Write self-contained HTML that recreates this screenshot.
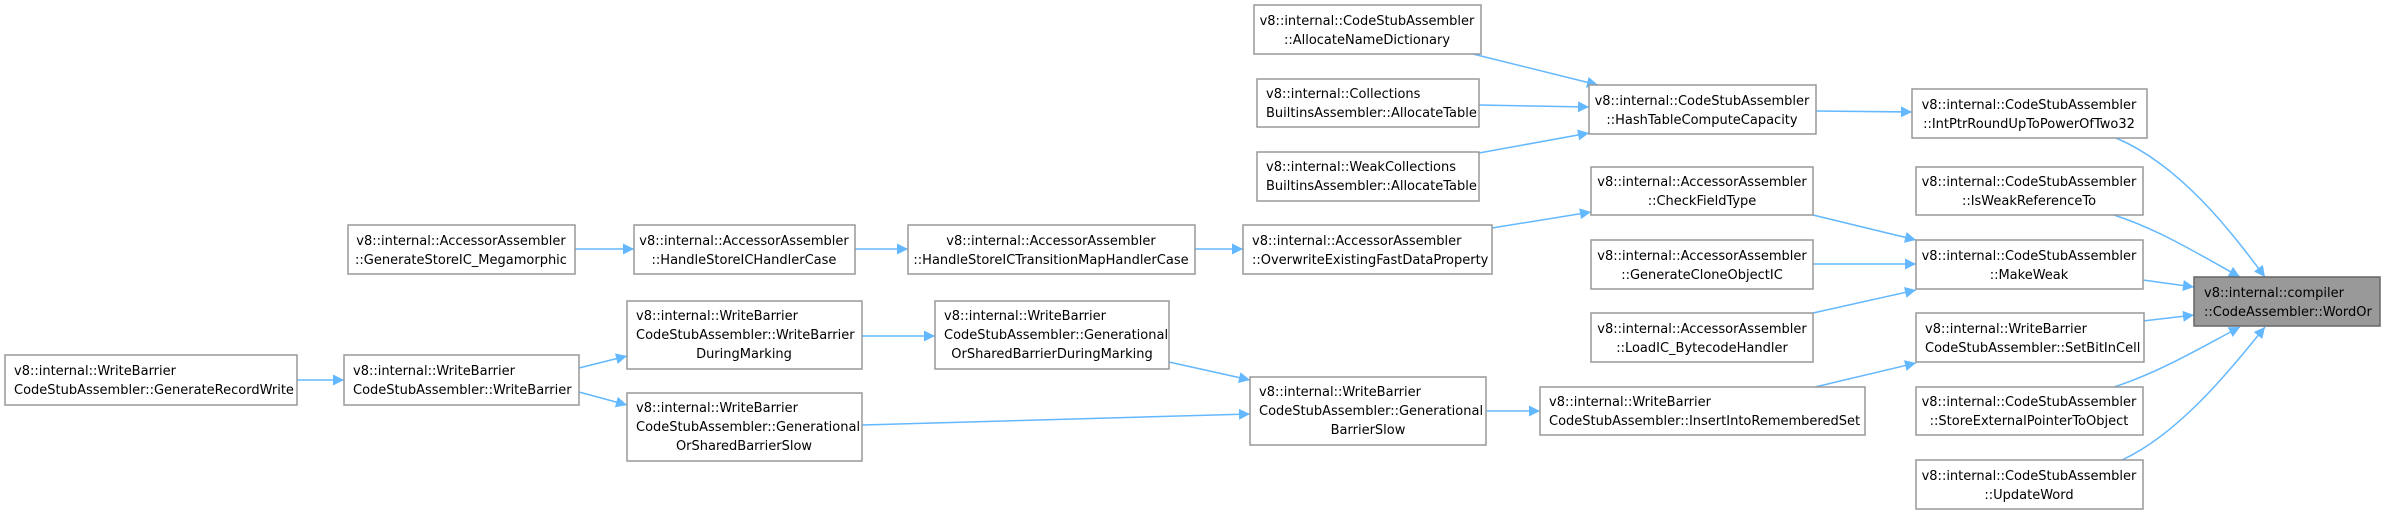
<!DOCTYPE html>
<html><head><meta charset="utf-8"><style>
html,body{margin:0;padding:0;background:#fff;}
svg{display:block;}
text{font-family:"DejaVu Sans","Liberation Sans",sans-serif;font-size:13px;fill:#000;}
rect{fill:#fff;stroke:#999;stroke-width:1.5;}
.e{stroke:#63b8ff;stroke-width:1.5;fill:none;marker-end:url(#a);}
</style></head><body>
<svg width="2384" height="514" viewBox="0 0 2384 514" xmlns="http://www.w3.org/2000/svg">
<defs><marker id="a" viewBox="0 0 10 10" refX="10" refY="5" markerWidth="14" markerHeight="11" markerUnits="userSpaceOnUse" orient="auto"><path d="M0,0 L10,5 L0,10 z" fill="#63b8ff"/></marker></defs>

<line class="e" x1="297" y1="380" x2="344" y2="380"/>
<line class="e" x1="579" y1="368" x2="627" y2="356"/>
<line class="e" x1="579" y1="392" x2="627" y2="405"/>
<line class="e" x1="862" y1="336" x2="935" y2="336"/>
<line class="e" x1="1169" y1="362" x2="1250" y2="380"/>
<line class="e" x1="862" y1="425" x2="1250" y2="414"/>
<line class="e" x1="1486" y1="411" x2="1540" y2="411"/>
<line class="e" x1="575" y1="249" x2="634" y2="249"/>
<line class="e" x1="855" y1="249" x2="908" y2="249"/>
<line class="e" x1="1195" y1="249" x2="1243" y2="249"/>
<line class="e" x1="1492" y1="228" x2="1591" y2="212"/>
<line class="e" x1="1473" y1="54" x2="1598" y2="85"/>
<line class="e" x1="1479" y1="105" x2="1589" y2="107"/>
<line class="e" x1="1479" y1="153" x2="1589" y2="133"/>
<line class="e" x1="1816" y1="111" x2="1912" y2="112"/>
<line class="e" x1="1813" y1="215" x2="1916" y2="240"/>
<line class="e" x1="1813" y1="264" x2="1916" y2="264"/>
<line class="e" x1="1813" y1="313" x2="1916" y2="290"/>
<line class="e" x1="1815" y1="387" x2="1916" y2="363"/>
<path class="e" d="M2116,138 C2180,165 2230,230 2265,277"/>
<path class="e" d="M2114,215 C2160,230 2200,255 2240,277"/>
<line class="e" x1="2143" y1="280" x2="2194" y2="287"/>
<line class="e" x1="2143" y1="321" x2="2194" y2="315"/>
<path class="e" d="M2114,387 C2160,372 2200,348 2240,327"/>
<path class="e" d="M2122,460 C2180,433 2230,370 2265,327"/>

<rect x="5" y="355" width="292" height="50"/>
<text x="14" y="375">v8::internal::WriteBarrier</text>
<text x="14" y="394">CodeStubAssembler::GenerateRecordWrite</text>

<rect x="344" y="355" width="235" height="50"/>
<text x="353" y="375">v8::internal::WriteBarrier</text>
<text x="353" y="394">CodeStubAssembler::WriteBarrier</text>

<rect x="348" y="225" width="227" height="49"/>
<text x="461" y="245" text-anchor="middle">v8::internal::AccessorAssembler</text>
<text x="461" y="264" text-anchor="middle">::GenerateStoreIC_Megamorphic</text>

<rect x="634" y="225" width="221" height="49"/>
<text x="744" y="245" text-anchor="middle">v8::internal::AccessorAssembler</text>
<text x="744" y="264" text-anchor="middle">::HandleStoreICHandlerCase</text>

<rect x="908" y="225" width="287" height="49"/>
<text x="1051" y="245" text-anchor="middle">v8::internal::AccessorAssembler</text>
<text x="1051" y="264" text-anchor="middle">::HandleStoreICTransitionMapHandlerCase</text>

<rect x="1243" y="225" width="249" height="49"/>
<text x="1252" y="245">v8::internal::AccessorAssembler</text>
<text x="1252" y="264">::OverwriteExistingFastDataProperty</text>

<rect x="627" y="301" width="235" height="68"/>
<text x="636" y="320">v8::internal::WriteBarrier</text>
<text x="636" y="339">CodeStubAssembler::WriteBarrier</text>
<text x="744" y="358" text-anchor="middle">DuringMarking</text>

<rect x="627" y="393" width="235" height="68"/>
<text x="636" y="412">v8::internal::WriteBarrier</text>
<text x="636" y="431">CodeStubAssembler::Generational</text>
<text x="744" y="450" text-anchor="middle">OrSharedBarrierSlow</text>

<rect x="935" y="301" width="234" height="68"/>
<text x="944" y="320">v8::internal::WriteBarrier</text>
<text x="944" y="339">CodeStubAssembler::Generational</text>
<text x="1052" y="358" text-anchor="middle">OrSharedBarrierDuringMarking</text>

<rect x="1250" y="377" width="236" height="68"/>
<text x="1259" y="396">v8::internal::WriteBarrier</text>
<text x="1259" y="415">CodeStubAssembler::Generational</text>
<text x="1368" y="434" text-anchor="middle">BarrierSlow</text>

<rect x="1254" y="5" width="227" height="49"/>
<text x="1367" y="25" text-anchor="middle">v8::internal::CodeStubAssembler</text>
<text x="1367" y="44" text-anchor="middle">::AllocateNameDictionary</text>

<rect x="1257" y="79" width="222" height="48"/>
<text x="1266" y="98">v8::internal::Collections</text>
<text x="1266" y="117">BuiltinsAssembler::AllocateTable</text>

<rect x="1257" y="152" width="222" height="49"/>
<text x="1266" y="171">v8::internal::WeakCollections</text>
<text x="1266" y="190">BuiltinsAssembler::AllocateTable</text>

<rect x="1589" y="85" width="227" height="49"/>
<text x="1702" y="105" text-anchor="middle">v8::internal::CodeStubAssembler</text>
<text x="1702" y="124" text-anchor="middle">::HashTableComputeCapacity</text>

<rect x="1591" y="167" width="222" height="48"/>
<text x="1702" y="186" text-anchor="middle">v8::internal::AccessorAssembler</text>
<text x="1702" y="205" text-anchor="middle">::CheckFieldType</text>

<rect x="1591" y="240" width="222" height="49"/>
<text x="1702" y="260" text-anchor="middle">v8::internal::AccessorAssembler</text>
<text x="1702" y="279" text-anchor="middle">::GenerateCloneObjectIC</text>

<rect x="1591" y="313" width="222" height="49"/>
<text x="1702" y="333" text-anchor="middle">v8::internal::AccessorAssembler</text>
<text x="1702" y="352" text-anchor="middle">::LoadIC_BytecodeHandler</text>

<rect x="1540" y="387" width="325" height="48"/>
<text x="1549" y="406">v8::internal::WriteBarrier</text>
<text x="1549" y="425">CodeStubAssembler::InsertIntoRememberedSet</text>

<rect x="1912" y="89" width="235" height="49"/>
<text x="2029" y="109" text-anchor="middle">v8::internal::CodeStubAssembler</text>
<text x="2029" y="128" text-anchor="middle">::IntPtrRoundUpToPowerOfTwo32</text>

<rect x="1916" y="167" width="227" height="48"/>
<text x="2029" y="186" text-anchor="middle">v8::internal::CodeStubAssembler</text>
<text x="2029" y="205" text-anchor="middle">::IsWeakReferenceTo</text>

<rect x="1916" y="240" width="227" height="49"/>
<text x="2029" y="260" text-anchor="middle">v8::internal::CodeStubAssembler</text>
<text x="2029" y="279" text-anchor="middle">::MakeWeak</text>

<rect x="1916" y="313" width="228" height="49"/>
<text x="1925" y="333">v8::internal::WriteBarrier</text>
<text x="1925" y="352">CodeStubAssembler::SetBitInCell</text>

<rect x="1916" y="387" width="227" height="48"/>
<text x="2029" y="406" text-anchor="middle">v8::internal::CodeStubAssembler</text>
<text x="2029" y="425" text-anchor="middle">::StoreExternalPointerToObject</text>

<rect x="1916" y="460" width="227" height="49"/>
<text x="2029" y="480" text-anchor="middle">v8::internal::CodeStubAssembler</text>
<text x="2029" y="499" text-anchor="middle">::UpdateWord</text>

<rect x="2194" y="277" width="186" height="49" style="fill:#999;stroke:#666"/>
<text x="2204" y="297">v8::internal::compiler</text>
<text x="2204" y="316">::CodeAssembler::WordOr</text>
</svg>
</body></html>
